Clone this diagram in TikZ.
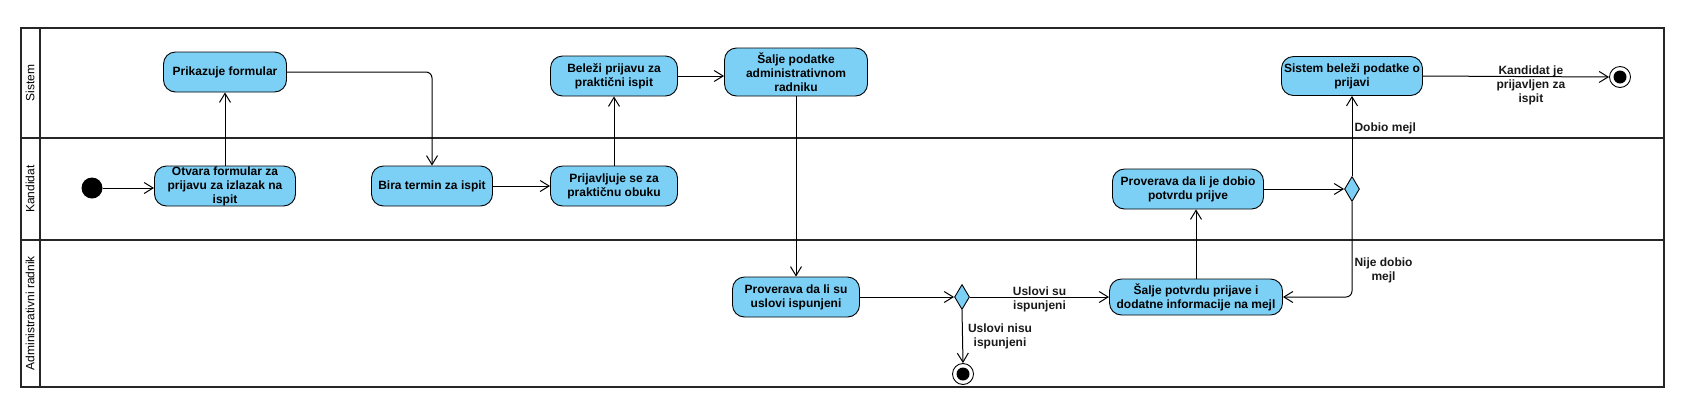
\documentclass[tikz,border=0pt]{standalone}
\usepackage{fontspec}
\setmainfont{Liberation Sans}
\usetikzlibrary{arrows.meta,shapes.geometric}
\definecolor{actfill}{RGB}{125,208,245}
\begin{document}
\begin{tikzpicture}[
        x=1pt, y=-1pt,
        every node/.style={font=\fontsize{12}{14}\selectfont},
        action/.style={draw, line width=0.9pt, rounded corners=12pt, fill=actfill, align=center,
            inner xsep=2pt, inner ysep=0pt, font=\bfseries\fontsize{12}{14}\selectfont},
        decision/.style={draw, diamond, line width=0.9pt, fill=actfill, inner sep=0pt,
            minimum width=15pt, minimum height=25pt},
        initstate/.style={circle, fill=black, inner sep=0pt, minimum size=21pt},
        endstate/.style={circle, draw, line width=0.9pt, fill=white, inner sep=0pt, minimum size=21pt,
            path picture={\fill[black] (path picture bounding box.center) circle (6.5pt);}},
        flow/.style={draw, line width=1pt, -{Straight Barb[length=9pt,width=11pt]}},
        guard/.style={font=\bfseries\fontsize{12}{14}\selectfont, align=center, inner sep=2pt, text=black!90},
        lane/.style={draw=black!85, line width=1.8pt},
        lanename/.style={rotate=90}
    ]
    \useasboundingbox (0,0) rectangle (1688,416);
    \draw[lane] (21,28) rectangle (1664,387);
    \draw[lane] (40,28) -- (40,387);
    \draw[lane] (21,138) -- (1664,138);
    \draw[lane] (21,240) -- (1664,240);
    \node[lanename] (lsis) at (30,83) {Sistem};
    \node[lanename] (lkand) at (30,189) {Kandidat};
    \node[lanename] (ladm) at (30,313) {Administrativni radnik};

    \node[initstate] (start) at (92,188) {};
    \node[action, minimum width=141pt, minimum height=40pt] (otv) at (225,186)
        {Otvara formular za\\prijavu za izlazak na\\ispit};
    \node[action, minimum width=123pt, minimum height=40pt] (prik) at (225,72)
        {Prikazuje formular};
    \node[action, minimum width=121pt, minimum height=40pt] (bira) at (432,186)
        {Bira termin za ispit};
    \node[action, minimum width=127pt, minimum height=40pt] (prij) at (614,186)
        {Prijavljuje se za\\praktičnu obuku};
    \node[action, minimum width=127pt, minimum height=40pt] (bel) at (614,76)
        {Beleži prijavu za\\praktični ispit};
    \node[action, minimum width=143pt, minimum height=48pt] (salp) at (796,72)
        {Šalje podatke\\administrativnom\\radniku};
    \node[action, minimum width=127pt, minimum height=40pt] (prov) at (796,297)
        {Proverava da li su\\uslovi ispunjeni};
    \node[decision] (dec1) at (962,297) {};
    \node[endstate] (end1) at (963,374) {};
    \node[action, minimum width=173pt, minimum height=36pt] (salj) at (1196,297)
        {Šalje potvrdu prijave i\\dodatne informacije na mejl};
    \node[action, minimum width=151pt, minimum height=40pt] (provd) at (1188,189)
        {Proverava da li je dobio\\potvrdu prijve};
    \node[decision] (dec2) at (1352,189) {};
    \node[action, minimum width=141pt, minimum height=39pt] (sis) at (1352,76)
        {Sistem beleži podatke o\\prijavi};
    \node[endstate] (end2) at (1620,77) {};

    \draw[flow] (start.east) -- (start.east -| otv.west);
    \draw[flow] (otv.north) -- (prik.south);
    \draw[flow, rounded corners=6pt] (prik.east) -| (bira.north);
    \draw[flow] (bira.east) -- (prij.west);
    \draw[flow] (prij.north) -- (bel.south);
    \draw[flow] (bel.east) -- (bel.east -| salp.west);
    \draw[flow] (salp.south) -- (prov.north);
    \draw[flow] (prov.east) -- (dec1.west);
    \draw[flow] (dec1.east) -- (salj.west)
        node[guard, midway, yshift=-2pt] (gsu) {Uslovi su\\ispunjeni};
    \draw[flow] (dec1.south) -- (end1.north)
        node[guard, midway, right=3pt] (gnisu) {Uslovi nisu\\ispunjeni};
    \draw[flow] (salj.north) -- (salj.north |- provd.south);
    \draw[flow] (provd.east) -- (dec2.west);
    \draw[flow] (dec2.north) -- (sis.south)
        node[guard, pos=0.6, anchor=west] (gdobio) {Dobio mejl};
    \draw[flow, rounded corners=6pt] (dec2.south) |- (salj.east)
        node[guard, pos=0.36, anchor=west] (gnije) {Nije dobio\\mejl};
    \draw[flow] (sis.east) -- (end2.west)
        node[guard, pos=0.58, yshift=-9pt] (gkand) {Kandidat je\\prijavljen za\\ispit};
\end{tikzpicture}
\end{document}
